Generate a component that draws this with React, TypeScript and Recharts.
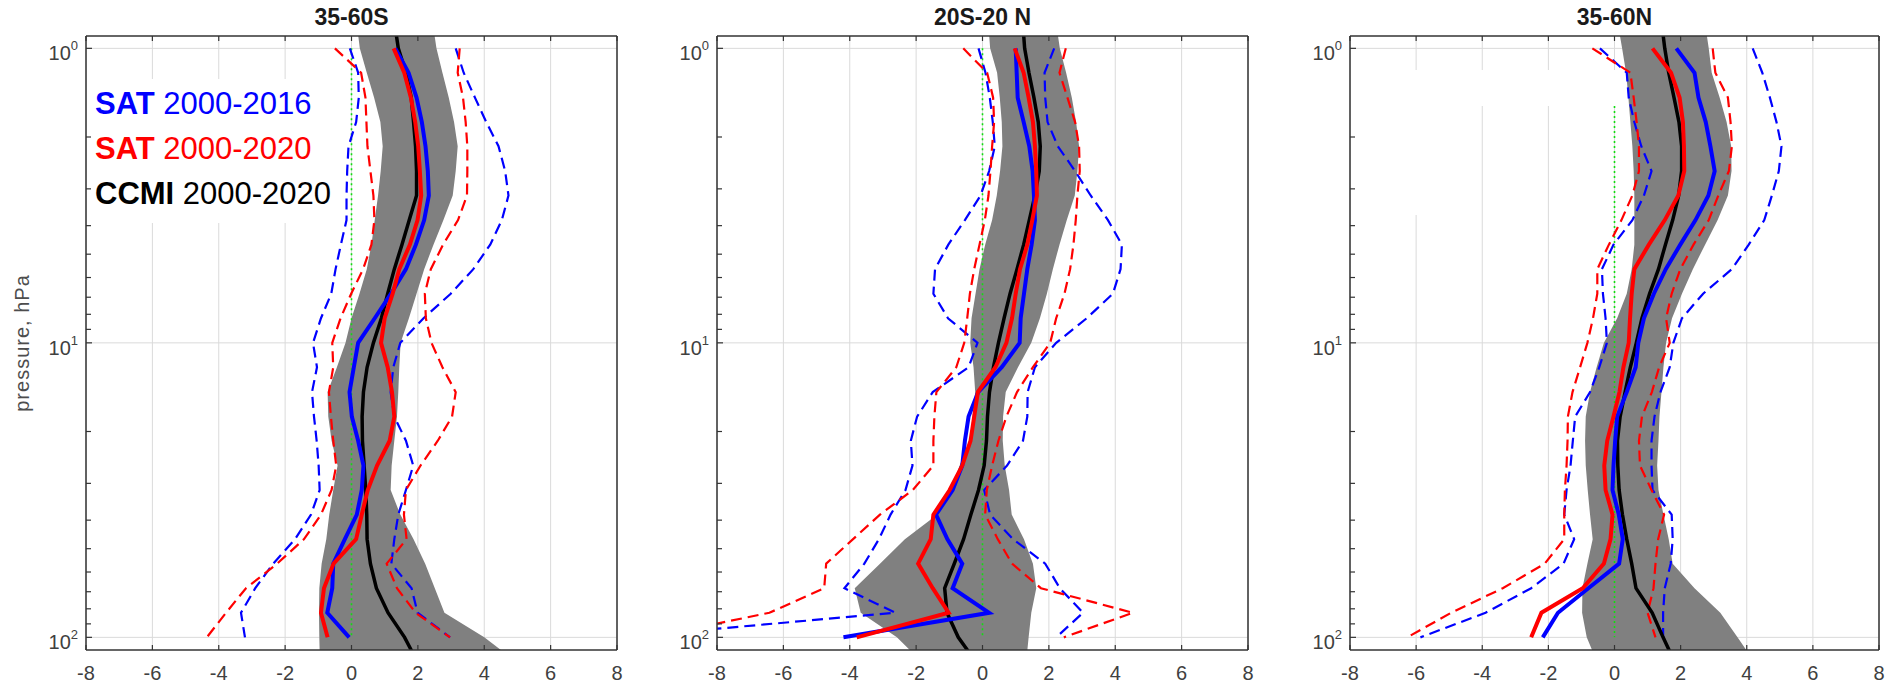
import { Area, CartesianGrid, ComposedChart, Line, ReferenceArea, XAxis, YAxis } from 'recharts';

const FONT = '"Liberation Sans", Arial, Helvetica, sans-serif';
const AXIS = '#333333';
const TICK_TEXT = '#404040';
const GRID = '#dadada';
const BLUE = '#0000ff';
const RED = '#ff0000';
const BAND = '#808080';

// pressure levels, hPa, top of the plot to bottom
const LEVELS = [1, 1.21, 1.47, 1.78, 2.15, 2.61, 3.16, 3.83, 4.64, 5.62, 6.81, 8.25, 10, 12.1, 14.7, 17.8, 21.5, 26.1, 31.6, 38.3, 46.4, 56.2, 68.1, 82.5, 100];
// the model band and model mean run a little past the axis limits
const LEVEL_TOP = 0.9;
const LEVEL_BOTTOM = 111;

const P_DOMAIN: [number, number] = [0.908, 110.4];
const P_TICKS = [1, 2, 3, 4, 5, 6, 7, 8, 9, 10, 20, 30, 40, 50, 60, 70, 80, 90, 100];
const P_MAJOR = [1, 10, 100];
const X_TICKS = [-8, -6, -4, -2, 0, 2, 4, 6, 8];

const TITLES = ['35-60S', '20S-20 N', '35-60N'];

// 35-60S  (band / ccmi include LEVEL_TOP and LEVEL_BOTTOM)
const S_BAND_LO = [0.2, 0.25, 0.46, 0.68, 0.87, 0.94, 0.88, 0.8, 0.7, 0.6, 0.46, 0.24, 0.0, -0.18, -0.44, -0.72, -0.7, -0.6, -0.42, -0.55, -0.67, -0.76, -0.9, -0.97, -0.98, -0.97, -0.96];
const S_BAND_HI = [2.5, 2.56, 2.74, 2.93, 3.09, 3.2, 3.14, 3.05, 2.77, 2.47, 2.19, 1.96, 1.73, 1.48, 1.44, 1.41, 1.37, 1.29, 1.21, 1.18, 1.47, 1.87, 2.22, 2.51, 2.8, 4.0, 4.53];
const S_CCMI = [1.35, 1.41, 1.64, 1.8, 1.87, 1.93, 1.96, 1.96, 1.74, 1.52, 1.29, 1.09, 0.9, 0.66, 0.47, 0.36, 0.32, 0.33, 0.38, 0.43, 0.46, 0.47, 0.57, 0.75, 1.1, 1.6, 1.81];
const S_SAT16 = [1.32, 1.72, 1.96, 2.12, 2.23, 2.3, 2.33, 2.19, 1.94, 1.64, 1.19, 0.7, 0.2, 0.07, -0.06, 0.01, 0.2, 0.36, 0.31, 0.16, -0.2, -0.55, -0.58, -0.73, -0.07];
const S_SAT16_LO = [-0.05, 0.2, 0.22, 0.14, -0.09, -0.13, -0.15, -0.15, -0.32, -0.48, -0.61, -0.92, -1.16, -1.04, -1.19, -1.13, -1.05, -0.99, -0.96, -1.22, -1.7, -2.36, -2.9, -3.33, -3.21];
const S_SAT16_HI = [3.14, 3.38, 3.72, 4.06, 4.43, 4.63, 4.73, 4.53, 4.18, 3.67, 2.99, 2.17, 1.47, 1.26, 1.18, 1.29, 1.64, 1.86, 1.64, 1.41, 1.29, 1.2, 1.81, 1.99, 2.97];
const S_SAT20 = [1.27, 1.59, 1.79, 1.92, 2.01, 2.06, 2.1, 1.99, 1.76, 1.44, 1.24, 1.0, 0.89, 1.09, 1.22, 1.29, 1.15, 0.77, 0.49, 0.31, 0.14, -0.54, -0.83, -0.92, -0.72];
const S_SAT20_LO = [-0.5, 0.29, 0.42, 0.45, 0.48, 0.57, 0.66, 0.69, 0.6, 0.35, -0.01, -0.33, -0.58, -0.55, -0.68, -0.62, -0.55, -0.46, -0.6, -0.92, -1.43, -2.24, -3.18, -3.78, -4.36];
const S_SAT20_HI = [3.26, 3.2, 3.36, 3.44, 3.49, 3.49, 3.48, 3.21, 2.76, 2.39, 2.21, 2.24, 2.41, 2.74, 3.14, 3.03, 2.6, 2.08, 1.64, 1.58, 1.66, 1.06, 1.37, 1.93, 2.97];

// 20S-20N
const T_BAND_LO = [0.2, 0.23, 0.44, 0.52, 0.58, 0.6, 0.53, 0.43, 0.29, 0.08, -0.09, -0.21, -0.33, -0.37, -0.27, -0.22, -0.3, -0.38, -0.69, -0.95, -1.36, -2.34, -3.09, -3.85, -3.67, -2.58, -2.17];
const T_BAND_HI = [2.27, 2.33, 2.52, 2.69, 2.82, 2.91, 2.86, 2.78, 2.54, 2.32, 2.12, 1.94, 1.73, 1.47, 1.07, 0.7, 0.62, 0.61, 0.67, 0.8, 0.88, 1.25, 1.52, 1.62, 1.47, 1.39, 1.35];
const T_CCMI = [1.24, 1.27, 1.4, 1.55, 1.68, 1.74, 1.71, 1.58, 1.41, 1.24, 1.04, 0.83, 0.65, 0.48, 0.33, 0.21, 0.15, 0.12, 0.05, -0.12, -0.35, -0.57, -0.85, -1.14, -1.07, -0.73, -0.44];
const T_SAT16 = [1.0, 1.03, 1.06, 1.24, 1.41, 1.51, 1.55, 1.58, 1.48, 1.35, 1.25, 1.15, 1.12, 0.58, -0.13, -0.42, -0.53, -0.61, -0.9, -1.4, -1.06, -0.61, -0.9, 0.2, -4.19];
const T_SAT16_LO = [-0.12, 0.09, 0.22, 0.31, 0.37, 0.2, -0.06, -0.53, -1.03, -1.43, -1.48, -1.04, -0.15, -0.42, -1.5, -1.97, -2.16, -2.11, -2.32, -2.77, -3.12, -3.56, -4.16, -2.63, -10.9];
const T_SAT16_HI = [2.16, 1.87, 1.89, 1.96, 2.27, 2.79, 3.26, 3.78, 4.2, 4.16, 3.93, 3.14, 2.22, 1.58, 1.36, 1.35, 1.22, 0.74, 0.05, 0.23, 0.92, 1.89, 2.33, 3.03, 2.22];
const T_SAT20 = [0.97, 1.24, 1.39, 1.52, 1.58, 1.62, 1.64, 1.5, 1.35, 1.13, 1.0, 0.89, 0.72, 0.39, -0.14, -0.25, -0.36, -0.61, -0.99, -1.48, -1.56, -1.94, -1.5, -1.02, -3.79];
const T_SAT20_LO = [-0.58, 0.14, 0.32, 0.35, 0.29, 0.24, 0.18, 0.07, -0.09, -0.25, -0.38, -0.46, -0.55, -0.79, -1.39, -1.45, -1.48, -1.48, -2.1, -3.09, -3.9, -4.71, -4.77, -6.42, -10.0];
const T_SAT20_HI = [2.51, 2.32, 2.56, 2.79, 2.91, 2.93, 2.86, 2.81, 2.74, 2.64, 2.47, 2.22, 2.04, 1.52, 1.04, 0.72, 0.48, 0.29, 0.13, 0.08, 0.46, 0.89, 1.76, 4.53, 2.45];

// 35-60N
const N_BAND_LO = [0.16, 0.23, 0.35, 0.42, 0.48, 0.54, 0.58, 0.6, 0.6, 0.6, 0.52, 0.37, 0.08, -0.32, -0.54, -0.74, -0.87, -0.89, -0.87, -0.81, -0.74, -0.66, -0.82, -0.97, -0.98, -0.84, -0.67];
const N_BAND_HI = [2.79, 2.85, 2.94, 3.18, 3.39, 3.53, 3.54, 3.43, 3.12, 2.74, 2.37, 2.04, 1.74, 1.56, 1.48, 1.42, 1.36, 1.33, 1.29, 1.33, 1.48, 1.64, 1.76, 2.42, 3.2, 3.72, 4.0];
const N_CCMI = [1.47, 1.52, 1.64, 1.8, 1.95, 2.03, 2.03, 1.94, 1.76, 1.54, 1.33, 1.06, 0.83, 0.66, 0.48, 0.32, 0.17, 0.09, 0.1, 0.14, 0.24, 0.37, 0.52, 0.65, 1.14, 1.47, 1.66];
const N_SAT16 = [1.87, 2.42, 2.54, 2.76, 2.9, 3.03, 2.84, 2.45, 1.99, 1.55, 1.19, 0.89, 0.72, 0.64, 0.37, 0.08, 0.02, -0.03, -0.06, 0.13, 0.25, 0.14, -0.79, -1.71, -2.17];
const N_SAT16_LO = [-0.44, 0.37, 0.43, 0.6, 0.81, 1.12, 0.89, 0.54, -0.03, -0.38, -0.35, -0.27, -0.23, -0.46, -0.74, -1.19, -1.26, -1.33, -1.45, -1.52, -1.22, -1.54, -2.52, -3.9, -5.87];
const N_SAT16_HI = [4.18, 4.47, 4.7, 4.9, 5.05, 4.97, 4.76, 4.53, 4.06, 3.55, 2.68, 2.04, 1.78, 1.67, 1.39, 1.21, 1.12, 1.12, 1.15, 1.73, 1.76, 1.7, 1.52, 1.47, 1.47];
const N_SAT20 = [1.15, 1.71, 1.97, 2.07, 2.1, 2.11, 1.93, 1.52, 1.04, 0.6, 0.52, 0.47, 0.43, 0.27, 0.15, -0.03, -0.22, -0.31, -0.27, -0.06, -0.12, -0.32, -0.96, -2.21, -2.52];
const N_SAT20_LO = [-0.67, 0.48, 0.58, 0.67, 0.74, 0.74, 0.54, 0.21, -0.17, -0.52, -0.52, -0.65, -0.82, -1.04, -1.27, -1.41, -1.42, -1.45, -1.5, -1.52, -1.52, -2.11, -3.38, -4.94, -6.27];
const N_SAT20_HI = [2.97, 3.05, 3.43, 3.51, 3.55, 3.46, 3.14, 2.85, 2.39, 1.99, 1.73, 1.56, 1.67, 1.35, 1.13, 0.83, 0.74, 0.77, 1.12, 1.5, 1.32, 1.24, 1.18, 1.0, 1.24];

// top of the green zero line, hPa
const ZERO_TOP = [1, 1, 1.57];

const LEGEND = [
  { bold: 'SAT', rest: '2000-2016', color: BLUE },
  { bold: 'SAT', rest: '2000-2020', color: RED },
  { bold: 'CCMI', rest: '2000-2020', color: '#000000' },
];

// layout
const Y_AXIS_W = 86;
const PLOT_LEFT = [86, 717, 1350];
const PLOT_W = [531, 531, 529];

interface Blank {
  x: [number, number];
  p: [number, number];
}

interface PanelSpec {
  bandLo: number[];
  bandHi: number[];
  ccmi: number[];
  sat16: number[];
  sat16Lo: number[];
  sat16Hi: number[];
  sat20: number[];
  sat20Lo: number[];
  sat20Hi: number[];
  zeroTop: number;
  blanks: Blank[];
}

const PANELS: PanelSpec[] = [
  {
    bandLo: S_BAND_LO, bandHi: S_BAND_HI, ccmi: S_CCMI,
    sat16: S_SAT16, sat16Lo: S_SAT16_LO, sat16Hi: S_SAT16_HI,
    sat20: S_SAT20, sat20Lo: S_SAT20_LO, sat20Hi: S_SAT20_HI,
    zeroTop: ZERO_TOP[0],
    blanks: [{ x: [-7.75, -0.27], p: [1.27, 3.92] }],
  },
  {
    bandLo: T_BAND_LO, bandHi: T_BAND_HI, ccmi: T_CCMI,
    sat16: T_SAT16, sat16Lo: T_SAT16_LO, sat16Hi: T_SAT16_HI,
    sat20: T_SAT20, sat20Lo: T_SAT20_LO, sat20Hi: T_SAT20_HI,
    zeroTop: ZERO_TOP[1],
    blanks: [],
  },
  {
    bandLo: N_BAND_LO, bandHi: N_BAND_HI, ccmi: N_CCMI,
    sat16: N_SAT16, sat16Lo: N_SAT16_LO, sat16Hi: N_SAT16_HI,
    sat20: N_SAT20, sat20Lo: N_SAT20_LO, sat20Hi: N_SAT20_HI,
    zeroTop: ZERO_TOP[2],
    blanks: [
      { x: [-7.75, 0.1], p: [1.185, 1.57] },
      { x: [-7.75, -5.2], p: [1.185, 3.68] },
    ],
  },
];

function buildRows(s: PanelSpec) {
  const all = [LEVEL_TOP, ...LEVELS, LEVEL_BOTTOM];
  return all.map((p, i) => {
    const k = i - 1;
    const at = (arr: number[]) => (k >= 0 && k < LEVELS.length ? arr[k] : null);
    return {
      p,
      band: [s.bandLo[i], s.bandHi[i]],
      ccmi: s.ccmi[i],
      sat16: at(s.sat16),
      sat16Lo: at(s.sat16Lo),
      sat16Hi: at(s.sat16Hi),
      sat20: at(s.sat20),
      sat20Lo: at(s.sat20Lo),
      sat20Hi: at(s.sat20Hi),
    };
  });
}

function BottomTick(props: any) {
  const { x, y, payload } = props;
  return (
    <g>
      <line x1={x} x2={x} y1={y} y2={y - 5} stroke={AXIS} strokeWidth={1.2} />
      <text x={x} y={y + 30} textAnchor="middle" fontSize={20} fill={TICK_TEXT} fontFamily={FONT}>
        {String(payload.value)}
      </text>
    </g>
  );
}

function TopTick(props: any) {
  const { x, y } = props;
  return <line x1={x} x2={x} y1={y} y2={y + 5} stroke={AXIS} strokeWidth={1.2} />;
}

function LeftTick(props: any) {
  const { x, y, payload } = props;
  const major = P_MAJOR.includes(payload.value);
  return (
    <g>
      <line x1={x} x2={x + (major ? 6 : 5)} y1={y} y2={y} stroke={AXIS} strokeWidth={1.2} />
      {major && (
        <text x={x - 8} y={y + 12} textAnchor="end" fontSize={20} fill={TICK_TEXT} fontFamily={FONT}>
          10
          <tspan dy={-10} fontSize={13}>
            {String(Math.round(Math.log10(payload.value)))}
          </tspan>
        </text>
      )}
    </g>
  );
}

function RightTick(props: any) {
  const { x, y, payload } = props;
  const major = P_MAJOR.includes(payload.value);
  return <line x1={x} x2={x - (major ? 6 : 5)} y1={y} y2={y} stroke={AXIS} strokeWidth={1.2} />;
}

function Panel({ spec, plotWidth }: { spec: PanelSpec; plotWidth: number }) {
  const rows = buildRows(spec);
  const zero = [
    { p: spec.zeroTop, v: 0 },
    { p: 100, v: 0 },
  ];
  const plain = { dot: false, activeDot: false, isAnimationActive: false, type: 'linear' as const };
  return (
    <ComposedChart
      layout="vertical"
      width={Y_AXIS_W + plotWidth + 7}
      height={683}
      data={rows}
      margin={{ top: 35, right: 6, bottom: 0, left: 0 }}
    >
      <CartesianGrid stroke={GRID} strokeWidth={1} horizontalValues={P_MAJOR} />
      {spec.blanks.map((b, i) => (
        <ReferenceArea key={i} x1={b.x[0]} x2={b.x[1]} y1={b.p[0]} y2={b.p[1]} fill="#ffffff" fillOpacity={1} stroke="none" />
      ))}
      <XAxis
        type="number"
        domain={[-8, 8]}
        ticks={X_TICKS}
        allowDataOverflow
        interval={0}
        height={33}
        tickSize={0}
        tickMargin={0}
        tickLine={false}
        axisLine={{ stroke: AXIS, strokeWidth: 1.5 }}
        tick={BottomTick}
      />
      <XAxis
        xAxisId="top"
        orientation="top"
        type="number"
        domain={[-8, 8]}
        ticks={X_TICKS}
        allowDataOverflow
        interval={0}
        height={1}
        tickSize={0}
        tickMargin={0}
        tickLine={false}
        axisLine={{ stroke: AXIS, strokeWidth: 1.5 }}
        tick={TopTick}
      />
      <YAxis
        type="number"
        dataKey="p"
        scale="log"
        domain={P_DOMAIN}
        allowDataOverflow
        ticks={P_TICKS}
        interval={0}
        width={Y_AXIS_W}
        tickSize={0}
        tickMargin={0}
        tickLine={false}
        axisLine={{ stroke: AXIS, strokeWidth: 1.5 }}
        tick={LeftTick}
      />
      <YAxis
        yAxisId="right"
        orientation="right"
        type="number"
        scale="log"
        domain={P_DOMAIN}
        allowDataOverflow
        ticks={P_TICKS}
        interval={0}
        width={1}
        tickSize={0}
        tickMargin={0}
        tickLine={false}
        axisLine={{ stroke: AXIS, strokeWidth: 1.5 }}
        tick={RightTick}
      />
      <Area dataKey="band" type="linear" fill={BAND} fillOpacity={1} stroke="none" isAnimationActive={false} activeDot={false} />
      <Line data={zero} dataKey="v" stroke="#11dd11" strokeWidth={1.6} strokeDasharray="2 3" {...plain} />
      <Line dataKey="sat16Lo" stroke={BLUE} strokeWidth={2.2} strokeDasharray="11 6" {...plain} />
      <Line dataKey="sat16Hi" stroke={BLUE} strokeWidth={2.2} strokeDasharray="11 6" {...plain} />
      <Line dataKey="sat20Lo" stroke={RED} strokeWidth={2.2} strokeDasharray="11 6" {...plain} />
      <Line dataKey="sat20Hi" stroke={RED} strokeWidth={2.2} strokeDasharray="11 6" {...plain} />
      <Line dataKey="ccmi" stroke="#000000" strokeWidth={3.5} {...plain} />
      <Line dataKey="sat16" stroke={BLUE} strokeWidth={4} {...plain} />
      <Line dataKey="sat20" stroke={RED} strokeWidth={4} {...plain} />
    </ComposedChart>
  );
}

export default function App() {
  return (
    <div style={{ position: 'absolute', left: 0, top: 0, width: 1890, height: 683, background: '#ffffff', overflow: 'hidden' }}>
      {PANELS.map((spec, i) => (
        <div key={TITLES[i]} style={{ position: 'absolute', left: PLOT_LEFT[i] - Y_AXIS_W, top: 0 }}>
          <Panel spec={spec} plotWidth={PLOT_W[i]} />
        </div>
      ))}
      <svg width={1890} height={683} style={{ position: 'absolute', left: 0, top: 0, pointerEvents: 'none' }}>
        {TITLES.map((t, i) => (
          <text key={t} x={PLOT_LEFT[i] + PLOT_W[i] / 2} y={25} textAnchor="middle" fontSize={23} fontWeight="bold" fill="#1a1a1a" fontFamily={FONT}>
            {t}
          </text>
        ))}
        <text transform="translate(29 343) rotate(-90)" textAnchor="middle" fontSize={20} letterSpacing={1} fill="#4d4d4d" fontFamily={FONT}>
          pressure, hPa
        </text>
        {LEGEND.map((l, i) => (
          <text key={l.rest + i} x={95} y={114 + i * 45} fontSize={31} fill={l.color} fontFamily={FONT}>
            <tspan fontWeight="bold">{l.bold}</tspan>
            <tspan>{' ' + l.rest}</tspan>
          </text>
        ))}
      </svg>
    </div>
  );
}
